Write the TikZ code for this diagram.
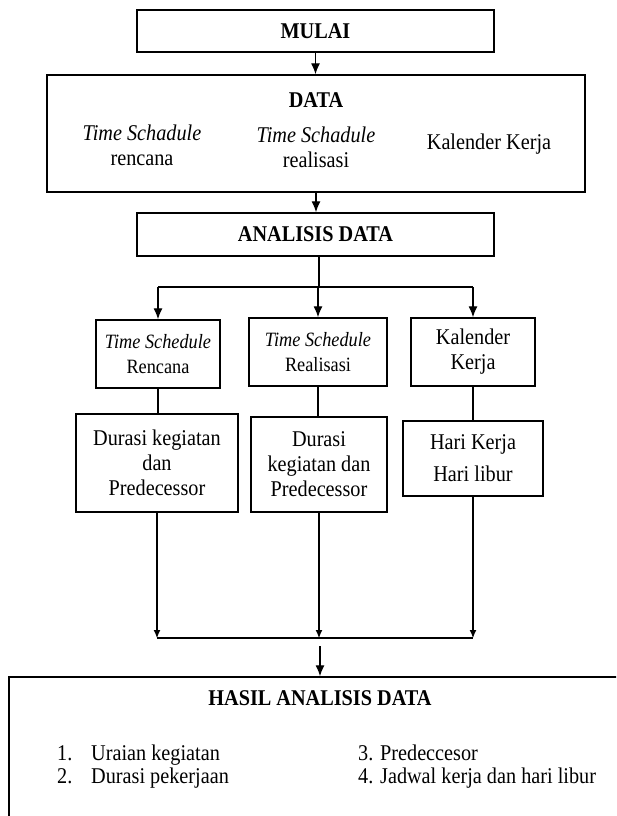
\documentclass[tikz,border=0pt]{standalone}
\usepackage{fontspec}
\setmainfont{Liberation Serif}[FakeStretch=0.9]
\usetikzlibrary{arrows.meta}

\begin{document}
\begin{tikzpicture}[x=1pt,y=-1pt]

\tikzset{box/.style = {draw, line width=1.4pt, inner sep=0pt, align=center, font=\fontsize{22.5}{25}\selectfont}}
\tikzset{txt/.style = {inner sep=0pt, align=center, font=\fontsize{22.5}{25}\selectfont}}
\tikzset{line/.style = {line width=1.3pt}}
\tikzset{edge/.style = {->, line width=1.3pt, > = {Latex[length=11pt,width=9pt]}}}
\tikzset{smalledge/.style = {->, line width=1.1pt, > = {Latex[length=8pt,width=7pt]}}}

\useasboundingbox (0,0) rectangle (616,816);
\clip (0,0) rectangle (616,816);

%boxes
\node[box, minimum width=357, minimum height=42] (mulai) at (315.5,31) {\textbf{MULAI}};
\node[box, minimum width=538, minimum height=117] (data) at (316,133.5) {};
\node[txt] (datatitle) at (316,100) {\textbf{DATA}};
\node[txt] (datarenc) at (142,145) {\textit{Time Schadule}\\rencana};
\node[txt] (datareal) at (316,147) {\textit{Time Schadule}\\realisasi};
\node[txt] (datakal) at (489,144) {Kalender Kerja};
\node[box, minimum width=357, minimum height=43] (analisis) at (315.5,234.5) {\textbf{ANALISIS DATA}};

%row 1
\node[box, minimum width=124, minimum height=68, font=\fontsize{20.3}{25}\selectfont] (tsrenc) at (158,354) {\textit{Time Schedule}\\Rencana};
\node[box, minimum width=138, minimum height=68, font=\fontsize{20.3}{25}\selectfont] (tsreal) at (318,352) {\textit{Time Schedule}\\Realisasi};
\node[box, minimum width=124, minimum height=68] (kal) at (473,352) {Kalender\\Kerja};

%row 2
\node[box, minimum width=162, minimum height=98] (durrenc) at (157,463) {Durasi kegiatan\\dan\\Predecessor};
\node[box, minimum width=136, minimum height=95] (durreal) at (319,464.5) {Durasi\\kegiatan dan\\Predecessor};
\node[box, minimum width=140, minimum height=75] (hari) at (473,458.5) {Hari Kerja\\[7pt]Hari libur};

%result
\node[box, minimum width=640, minimum height=170] (hasil) at (329,762) {};
\node[txt] (hasiltitle) at (320,698) {\textbf{HASIL ANALISIS DATA}};
\node[txt, anchor=west, align=left, font=\fontsize{22.5}{23}\selectfont] (hasilkiri) at (57,767)
  {\begin{tabular}{@{}p{34pt}@{}l@{}}1. & Uraian kegiatan\\2. & Durasi pekerjaan\end{tabular}};
\node[txt, anchor=west, align=left, font=\fontsize{22.5}{23}\selectfont] (hasilkanan) at (358,767)
  {3. Predeccesor\\4. Jadwal kerja dan hari libur};

%connectors
\coordinate (bagi) at (319,287);
\coordinate (gabung) at (320,638);
\coordinate (turun) at (320,646);

\draw[edge] (mulai.south) -- (mulai.south |- data.north);
\draw[edge] (data.south) -- (data.south |- analisis.north);
\draw[line] (bagi |- analisis.south) -- (bagi);
\draw[line] (tsrenc.north |- bagi) -- (kal.north |- bagi);
\foreach \n in {tsrenc, tsreal, kal}
  \draw[edge] (\n.north |- bagi) -- (\n.north);
\foreach \a/\b in {tsrenc/durrenc, tsreal/durreal, kal/hari}
  \draw[line] (\a.south) -- (\a.south |- \b.north);
\foreach \n in {durrenc, durreal, hari}
  \draw[smalledge] (\n.south) -- (\n.south |- gabung);
\draw[line] (durrenc.south |- gabung) -- (hari.south |- gabung);
\draw[edge] (turun) -- (turun |- hasil.north);

\end{tikzpicture}
\end{document}
